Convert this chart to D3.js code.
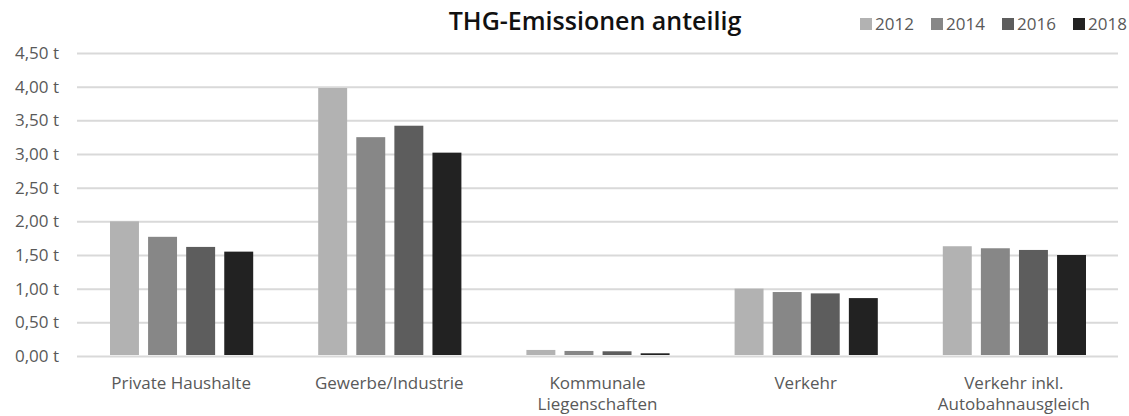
<!DOCTYPE html>
<html>
<head>
  <meta charset="utf-8">
  <title>THG-Emissionen anteilig</title>
  <script src="https://d3js.org/d3.v7.min.js"></script>
  <style>
    body { margin: 0; background: #fff; }
    text { font-family: "Open Sans", sans-serif; }
  </style>
</head>
<body>
<script>
  var width = 1129;
  var height = 416;

  // data
  var categories = [["Private Haushalte"], ["Gewerbe/Industrie"], ["Kommunale", "Liegenschaften"], ["Verkehr"], ["Verkehr inkl.", "Autobahnausgleich"]];
  var years = ["2012", "2014", "2016", "2018"];
  var v2012 = [2.00, 3.98, 0.09, 1.00, 1.63];
  var v2014 = [1.77, 3.25, 0.075, 0.95, 1.60];
  var v2016 = [1.62, 3.42, 0.07, 0.93, 1.575];
  var v2018 = [1.55, 3.02, 0.04, 0.86, 1.50];
  var yTicks = [0, 0.5, 1, 1.5, 2, 2.5, 3, 3.5, 4, 4.5];
  var colors = ["#b2b2b2", "#878787", "#5d5d5d", "#222222"];

  var series = [v2012, v2014, v2016, v2018];

  var margin = { top: 53, right: 11, bottom: 60, left: 77 };

  var svg = d3.select("body").append("svg").attr("width", width).attr("height", height);

  var x = d3.scaleBand().domain(d3.range(categories.length)).range([margin.left, width - margin.right]);
  var y = d3.scaleLinear().domain([0, 4.5]).range([height - margin.bottom, margin.top]);
  // bars sit 33px in from each side of the group
  var inner = d3.scaleBand().domain(years).range([33, x.bandwidth() - 32]).paddingInner(0.24);

  // gridlines + labels
  var yAxis = d3.axisLeft(y)
    .tickValues(yTicks)
    .tickSize(-(width - margin.left - margin.right))
    .tickPadding(18)
    .tickFormat(function (d) { return d3.format(".2f")(d).replace(".", ",") + " t"; });

  var gY = svg.append("g").attr("transform", "translate(" + margin.left + ",0)").call(yAxis);
  gY.select(".domain").remove();
  gY.selectAll(".tick line").attr("stroke", "#d9d9d9").attr("stroke-width", 2);
  gY.selectAll(".tick text").attr("fill", "#595959").attr("font-size", 17);

  // bars
  years.forEach(function (yr, i) {
    svg.append("g").selectAll("rect")
      .data(series[i])
      .enter()
      .append("rect")
      .attr("x", function (d, j) { return x(j) + inner(yr); })
      .attr("y", function (d) { return y(d); })
      .attr("width", inner.bandwidth())
      .attr("height", function (d) { return y(0) - y(d) - 1; })
      .attr("fill", colors[i]);
  });

  // category labels
  var xl = svg.append("g");
  categories.forEach(function (lines, j) {
    var cx = x(j) + x.bandwidth() / 2;
    var t = xl.append("text")
      .attr("x", cx)
      .attr("y", 389)
      .attr("text-anchor", "middle")
      .attr("fill", "#595959")
      .attr("font-size", 17);
    lines.forEach(function (l, k) {
      t.append("tspan").attr("x", cx).attr("dy", k ? 21 : 0).text(l);
    });
  });

  // title
  svg.append("text")
    .attr("x", 595)
    .attr("y", 30)
    .attr("text-anchor", "middle")
    .attr("font-size", 25)
    .attr("font-weight", 600)
    .attr("fill", "#111")
    .text("THG-Emissionen anteilig");

  // legend
  var leg = svg.append("g").selectAll("g")
    .data(years)
    .enter()
    .append("g")
    .attr("transform", function (d, i) { return "translate(" + (860 + i * 71) + ",18)"; });
  leg.append("rect").attr("width", 12).attr("height", 12).attr("fill", function (d, i) { return colors[i]; });
  leg.append("text").attr("x", 15).attr("y", 12).attr("font-size", 17).attr("fill", "#595959").text(function (d) { return d; });
</script>
</body>
</html>
